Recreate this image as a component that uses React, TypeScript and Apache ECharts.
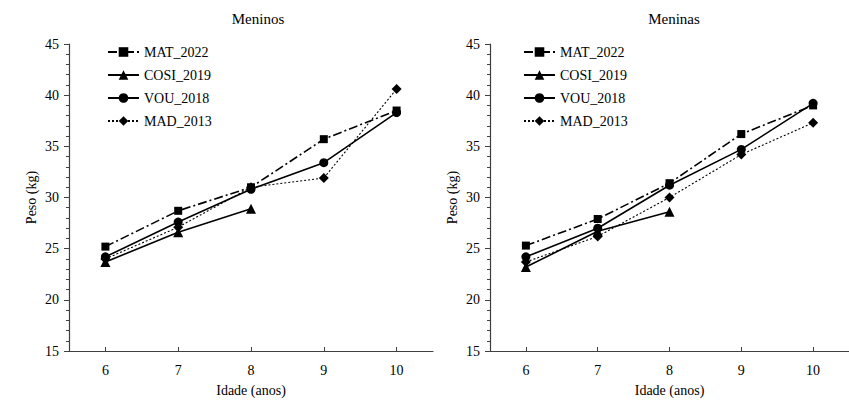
import React, { useEffect, useRef } from "react";
import * as echarts from "echarts";

const ages = ["6", "7", "8", "9", "10"];
const yTicks = { min: 15, max: 45, step: 5 };

const boysMAT = [25.2, 28.7, 31.0, 35.7, 38.5];
const boysCOSI = [23.7, 26.6, 28.9];
const boysVOU = [24.2, 27.6, 30.8, 33.4, 38.3];
const boysMAD = [24.0, 27.1, 31.0, 31.9, 40.6];

const girlsMAT = [25.3, 27.9, 31.4, 36.2, 39.0];
const girlsCOSI = [23.2, 26.7, 28.6];
const girlsVOU = [24.2, 27.0, 31.2, 34.7, 39.2];
const girlsMAD = [23.7, 26.2, 30.0, 34.2, 37.3];

const seriesNames = ["MAT_2022", "COSI_2019", "VOU_2018", "MAD_2013"];
const titles = ["Meninos", "Meninas"];

const FONT = "Liberation Serif";

export default function App() {
  const ref = useRef<HTMLDivElement>(null);
  useEffect(() => {
    if (!ref.current) return;
    const chart = echarts.init(ref.current, undefined, { renderer: "svg" });

    const styles = [
      { symbol: "rect", symbolSize: 8, lineStyle: { type: [9, 3, 2, 3], width: 1.6 } },
      { symbol: "triangle", symbolSize: 10, lineStyle: { type: "solid", width: 1.6 } },
      { symbol: "circle", symbolSize: 9, lineStyle: { type: "solid", width: 1.6 } },
      { symbol: "diamond", symbolSize: 10, lineStyle: { type: [2, 2], width: 1.1 } },
    ];
    const groups = [
      [boysMAT, boysCOSI, boysVOU, boysMAD],
      [girlsMAT, girlsCOSI, girlsVOU, girlsMAD],
    ];
    const series: any[] = [];
    groups.forEach((g, gi) => {
      g.forEach((d, si) => {
        series.push({
          type: "line",
          name: seriesNames[si],
          xAxisIndex: gi,
          yAxisIndex: gi,
          data: d,
          symbol: styles[si].symbol,
          symbolSize: styles[si].symbolSize,
          showSymbol: true,
          itemStyle: { color: "#000" },
          lineStyle: { ...styles[si].lineStyle, color: "#000" },
          z: 10 - si,
        });
      });
    });

    const grids = [
      { left: 69, top: 44, width: 364, height: 311 },
      { left: 490, top: 44, width: 364, height: 311 },
    ];
    const axisColor = "#404040";
    const xAxis = grids.map((_, i) => ({
      type: "category",
      gridIndex: i,
      data: ages,
      boundaryGap: true,
      name: "Idade (anos)",
      nameLocation: "middle",
      nameGap: 32,
      nameTextStyle: { fontFamily: FONT, fontSize: 14, color: "#000" },
      axisLine: { show: true, lineStyle: { color: axisColor, width: 1.2 } },
      axisTick: { show: true, inside: true, alignWithLabel: true, length: 4, lineStyle: { color: axisColor } },
      axisLabel: { fontFamily: FONT, fontSize: 14, color: "#000", margin: 12 },
      splitLine: { show: false },
    }));
    const yAxis = grids.map((_, i) => ({
      type: "value",
      gridIndex: i,
      min: yTicks.min,
      max: yTicks.max,
      interval: yTicks.step,
      name: "Peso (kg)",
      nameLocation: "middle",
      nameGap: 31,
      nameTextStyle: { fontFamily: FONT, fontSize: 14, color: "#000" },
      axisLine: { show: true, lineStyle: { color: axisColor, width: 1.2 } },
      axisTick: { show: true, inside: false, length: 5, lineStyle: { color: axisColor } },
      minorTick: { show: true, splitNumber: 5, length: 3, lineStyle: { color: axisColor } },
      axisLabel: { fontFamily: FONT, fontSize: 14, color: "#000", margin: 10 },
      splitLine: { show: false },
      minorSplitLine: { show: false },
    }));

    const legendBase = {
      orient: "vertical",
      top: 45,
      padding: 0,
      itemWidth: 31,
      itemHeight: 12,
      itemGap: 9,
      data: seriesNames,
      textStyle: { fontFamily: FONT, fontSize: 14, color: "#000" },
      selectedMode: false,
    };

    chart.setOption({
      animation: false,
      backgroundColor: "#fff",
      title: [
        { text: titles[0], left: 253, top: 6, textAlign: "center", textStyle: { fontFamily: FONT, fontSize: 15, fontWeight: "normal", color: "#000" } },
        { text: titles[1], left: 669, top: 6, textAlign: "center", textStyle: { fontFamily: FONT, fontSize: 15, fontWeight: "normal", color: "#000" } },
      ],
      legend: [
        { ...legendBase, left: 107 },
        { ...legendBase, left: 523 },
      ],
      grid: grids,
      xAxis,
      yAxis,
      series,
    });
    return () => chart.dispose();
  }, []);
  return <div ref={ref} style={{ position: "absolute", left: 0, top: 0, width: 849, height: 402 }} />;
}
